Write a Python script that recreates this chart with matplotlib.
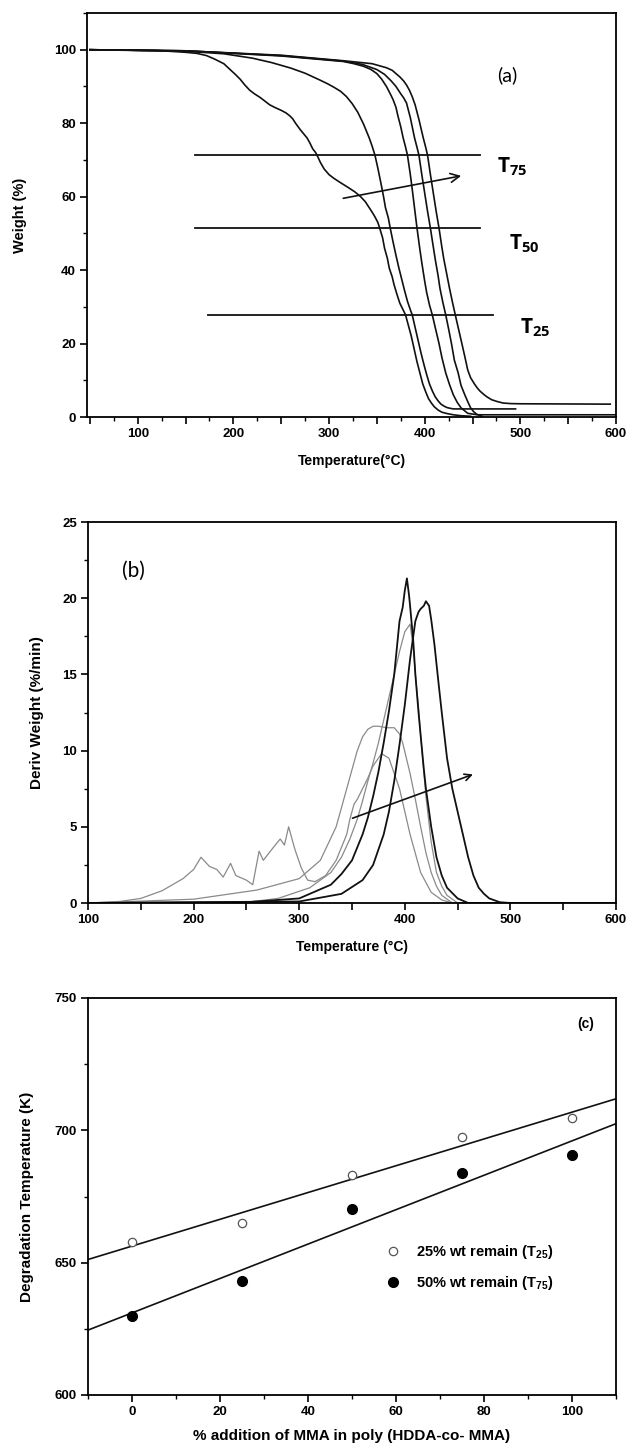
import matplotlib
matplotlib.use('Agg')
import matplotlib.pyplot as plt
import numpy as np
from matplotlib.ticker import MultipleLocator, FuncFormatter

plt.rcParams['font.family'] = ['Liberation Sans', 'DejaVu Sans']
plt.rcParams['font.weight'] = 'bold'
plt.rcParams['mathtext.default'] = 'regular'

# ---------------- (a) TGA curves: temperature (C) / weight (%) ----------------
tga1_t = [50, 120, 150, 162, 172, 180, 190, 197, 202, 207, 212, 217, 222, 228, 233, 238, 244, 250,
          255, 259, 262, 265, 270, 277, 280, 283, 286, 288, 291, 295, 300, 305, 312, 320, 327, 333,
          338, 342, 345, 348, 351, 353, 356, 358, 361, 363, 366, 368, 371, 374, 377, 380, 383, 386,
          389, 392, 395, 398, 401, 404, 407, 410, 414, 418, 424, 430, 438, 448]
tga1_w = [100, 99.8, 99.3, 99.0, 98.4, 97.5, 96.2, 94.5, 93.3, 92, 90.4, 89, 88, 87, 86, 85, 84.2,
          83.5, 82.8, 82, 81.2, 80, 78.2, 76, 74.6, 73, 72, 71, 69.3, 67.5, 66, 65, 63.8, 62.5, 61.3,
          60, 58.6, 57, 55.8, 54.5, 53, 51.4, 48.8, 46, 43.2, 40.5, 38.2, 36, 33.4, 31, 29.4, 27.8,
          24.9, 22, 18.5, 15, 12, 9, 6.9, 5, 3.8, 2.8, 1.9, 1.3, 0.9, 0.6, 0.35, 0.2]
tga2_t = [50, 150, 190, 220, 240, 260, 275, 290, 298, 305, 312, 318, 324, 330, 336, 342, 345, 348,
          351, 354, 357, 359, 362, 364, 367, 370, 373, 376, 379, 382, 385, 387, 390, 393, 396, 399,
          402, 405, 408, 411, 414, 417, 420, 423, 426, 430, 495]
tga2_w = [100, 99.6, 98.9, 97.7, 96.5, 95, 93.6, 91.8, 90.8, 89.8, 88.7, 87.3, 85.4, 83, 79.8, 76,
          73.8, 71.3, 67.8, 64, 60, 57, 54.2, 51.4, 47.6, 44, 40.6, 37.5, 34.4, 31.5, 29.2, 27.8,
          24.4, 21, 17.6, 14.5, 11.6, 9, 7.1, 5.5, 4.4, 3.5, 3.0, 2.6, 2.4, 2.2, 2.2]
tga3_t = [50, 150, 250, 315, 326, 336, 344, 350, 355, 360, 364, 367, 370, 372, 375, 377.5, 380, 382,
          385, 387, 390, 392, 395, 397, 400, 402, 405, 408, 411, 415, 418, 422, 426, 430, 434, 438,
          445, 455, 600]
tga3_w = [100, 99.7, 98.3, 96.8, 96.2, 95.5, 94.6, 93.5, 92, 90, 88, 86.4, 84.3, 82, 79, 76, 73.5,
          71.3, 66, 62, 55.6, 51.4, 45.6, 42, 37, 34, 30.5, 27.8, 24.4, 20, 16.2, 12, 8.8, 6, 4,
          2.5, 1.0, 0.6, 0.6]
tga4_t = [50, 150, 250, 315, 335, 350, 358, 365, 370, 375, 378, 381, 385, 389.4, 392, 394, 397, 400,
          403, 406, 408, 411, 414, 416, 419, 422, 425, 428, 431, 435, 438, 442, 445, 448, 451, 454,
          460]
tga4_w = [100, 99.7, 98.4, 96.9, 96, 94.6, 93.3, 91.5, 90, 88, 86.9, 85.5, 81.5, 76, 73.4, 71.3,
          66, 61, 56, 51.4, 48, 43, 38.5, 35, 31.2, 27.8, 24, 20, 15.5, 12, 8.6, 6, 4.2, 2.5, 1.5,
          0.8, 0.2]
tga5_t = [50, 150, 250, 315, 345, 360, 366, 370, 374, 378, 381, 384, 387, 390, 394, 398.5, 401, 403,
          406, 409, 412, 415, 418, 420, 423, 426, 429, 432, 435, 438, 442, 445, 448, 452, 455, 458,
          462, 465, 470, 476, 482, 490, 500, 594]
tga5_w = [100, 99.7, 98.5, 97, 96.2, 95.1, 94.4, 93.5, 92.6, 91.5, 90.4, 89, 87.2, 85, 81, 76, 73.5,
          71.3, 66, 61, 56, 51.4, 46.2, 43, 39, 35, 31.3, 27.8, 24.4, 21, 16.4, 12.8, 10.7, 9, 7.9,
          7, 6.1, 5.5, 4.7, 4.2, 3.8, 3.65, 3.6, 3.5]

level_w = [71.3, 51.4, 27.8]
level_start = [160, 160, 173]
level_end = [458, 458, 471]
level_names = ['75', '50', '25']
level_label_t = [476, 488, 500]
level_label_w = [66.5, 45.5, 22.8]

# ---------------- (b) DTG curves: temperature (C) / deriv weight (%/min) ----------------
dtg1_t = [100, 130, 150, 170, 190, 200, 207, 215, 222, 228, 235, 240, 250, 256, 262, 266, 275, 282,
          286, 290, 296, 302, 308, 315, 325, 335, 345, 348, 352, 355, 360, 365, 370, 378, 385, 395,
          405, 415, 425, 435, 445, 600]
dtg1_d = [0, 0.1, 0.3, 0.8, 1.6, 2.2, 3.0, 2.4, 2.2, 1.7, 2.6, 1.8, 1.5, 1.2, 3.4, 2.8, 3.6, 4.2,
          3.8, 5.0, 3.5, 2.3, 1.5, 1.4, 1.8, 2.8, 4.5, 5.5, 6.5, 6.8, 7.5, 8.2, 9.0, 9.8, 9.5, 7.5,
          4.5, 2.0, 0.7, 0.2, 0, 0]
dtg2_t = [100, 120, 200, 260, 300, 320, 335, 345, 355, 360, 365, 370, 375, 383, 390, 395, 398, 405,
          410, 415, 420, 425, 430, 435, 445, 600]
dtg2_d = [0, 0.05, 0.25, 0.85, 1.6, 2.8, 5, 7.5, 10, 10.9, 11.4, 11.6, 11.6, 11.5, 11.5, 11.1,
          10.5, 8.5, 6.8, 5, 3.3, 2, 1.1, 0.5, 0, 0]
dtg3_t = [100, 250, 280, 310, 330, 340, 348, 355, 360, 365, 370, 375, 380, 385, 390, 395, 400, 405,
          408, 410, 413, 415, 418, 420, 425, 430, 435, 440, 450, 600]
dtg3_d = [0, 0.05, 0.3, 1.0, 2.0, 3.0, 4.2, 5.5, 6.7, 8, 9.2, 10.5, 12, 13.5, 15, 16.5, 17.8, 18.3,
          16.8, 15, 12.8, 11, 8.6, 7, 4, 2, 1.1, 0.5, 0, 0]
dtg4_t = [100, 250, 300, 330, 340, 350, 360, 365, 370, 375, 380, 385, 390, 395, 398, 400, 402, 404,
          405, 408, 410, 413, 415, 418, 420, 425, 430, 435, 440, 450, 460, 600]
dtg4_d = [0, 0.05, 0.3, 1.2, 1.9, 2.8, 4.5, 5.6, 7, 8.6, 10.5, 12.6, 15, 18.5, 19.4, 20.5, 21.3,
          20.2, 19.5, 17.2, 15, 12.5, 11, 8.8, 7.5, 5, 3, 1.8, 1, 0.3, 0, 0]
dtg5_t = [100, 300, 340, 360, 370, 380, 385, 390, 395, 400, 405, 410, 413, 415, 418, 420, 423, 425,
          428, 432, 435, 440, 445, 450, 455, 460, 465, 470, 475, 480, 490, 500, 600]
dtg5_d = [0, 0.1, 0.6, 1.5, 2.5, 4.5, 6, 8, 10.4, 13, 16, 18.5, 19.1, 19.3, 19.5, 19.8, 19.5, 18.6,
          17, 14.4, 12.5, 9.5, 7.5, 6, 4.5, 3, 1.8, 1, 0.6, 0.3, 0.05, 0, 0]

# ---------------- (c) degradation temperature vs MMA ----------------
mma = [0, 25, 50, 75, 100]
t25_k = [657.8, 664.8, 683.0, 697.5, 704.7]
t75_k = [630.0, 642.9, 670.1, 683.8, 690.8]

fig = plt.figure(figsize=(6.32, 14.55), dpi=100)
ax_a = fig.add_axes([87/632, 1-417/1455, 529/632, 404/1455])
ax_b = fig.add_axes([88/632, 1-903/1455, 528/632, 381/1455])
ax_c = fig.add_axes([88/632, 1-1395/1455, 528/632, 397/1455])

def style(ax):
    for s in ax.spines.values():
        s.set_linewidth(1.3)
    ax.tick_params(which='major', direction='out', length=5, width=1.2, labelsize=9.5, pad=3)
    ax.tick_params(which='minor', direction='out', length=3, width=1.0)
    for lab in ax.get_xticklabels() + ax.get_yticklabels():
        lab.set_fontweight('bold')

every100 = FuncFormatter(lambda v, p: '%d' % v if abs(v % 100) < 1e-6 else '')

# (a)
for tt, ww in [(tga1_t, tga1_w), (tga2_t, tga2_w), (tga3_t, tga3_w), (tga4_t, tga4_w), (tga5_t, tga5_w)]:
    ax_a.plot(tt, ww, color='#111111', lw=1.2)
for w, x0, x1, nm, lx, ly in zip(level_w, level_start, level_end, level_names, level_label_t, level_label_w):
    ax_a.plot([x0, x1], [w, w], color='#111111', lw=1.3)
    ax_a.text(lx, ly, 'T$_{%s}$' % nm, family=['Open Sans', 'DejaVu Sans'], fontweight='bold',
              fontsize=15, ha='left', va='baseline')
ax_a.annotate('', xy=(441, 65.8), xytext=(312, 59.4),
              arrowprops=dict(arrowstyle='->', color='#111111', lw=1.2, mutation_scale=16))
ax_a.text(486, 93, '(a)', family=['Lato', 'DejaVu Sans'], fontweight='normal', fontsize=14,
          ha='center', va='center')
ax_a.set_xlim(47, 600)
ax_a.set_ylim(0, 110)
ax_a.xaxis.set_major_locator(MultipleLocator(50))
ax_a.xaxis.set_major_formatter(every100)
ax_a.xaxis.set_minor_locator(MultipleLocator(25))
ax_a.yaxis.set_major_locator(MultipleLocator(20))
ax_a.yaxis.set_minor_locator(MultipleLocator(10))
ax_a.set_yticks([0, 20, 40, 60, 80, 100])
ax_a.set_xlabel('Temperature(°C)', fontsize=10, fontweight='bold', labelpad=10)
ax_a.set_ylabel('Weight (%)', fontsize=10.5, fontweight='bold', labelpad=19)
style(ax_a)

# (b)
grey = '#8a8a8a'
for tt, dd, c, lw in [(dtg1_t, dtg1_d, grey, 0.9), (dtg2_t, dtg2_d, grey, 0.9), (dtg3_t, dtg3_d, grey, 0.9),
                      (dtg4_t, dtg4_d, '#111111', 1.3), (dtg5_t, dtg5_d, '#111111', 1.3)]:
    ax_b.plot(tt, dd, color=c, lw=lw)
ax_b.annotate('', xy=(467, 8.5), xytext=(348, 5.5),
              arrowprops=dict(arrowstyle='->', color='#111111', lw=1.2, mutation_scale=12))
ax_b.text(143, 21.8, '(b)', family=['Lato', 'DejaVu Sans'], fontweight='normal', fontsize=15,
          ha='center', va='center')
ax_b.set_xlim(100, 600)
ax_b.set_ylim(0, 25)
ax_b.xaxis.set_major_locator(MultipleLocator(50))
ax_b.xaxis.set_major_formatter(every100)
ax_b.yaxis.set_major_locator(MultipleLocator(5))
ax_b.yaxis.set_minor_locator(MultipleLocator(2.5))
ax_b.set_xlabel('Temperature (°C)', fontsize=10, fontweight='bold', labelpad=10)
ax_b.set_ylabel('Deriv Weight (%/min)', fontsize=11, fontweight='bold', labelpad=13)
style(ax_b)

# (c)
xfit = np.array([-10, 110])
p25 = np.polyfit(mma, t25_k, 1)
p75 = np.polyfit(mma, t75_k, 1)
ax_c.plot(xfit, np.polyval(p25, xfit), color='#111111', lw=1.2)
ax_c.plot(xfit, np.polyval(p75, xfit), color='#111111', lw=1.2)
ax_c.plot(mma, t25_k, 'o', ms=6, mfc='white', mec='#555555', mew=0.9,
          label='25% wt remain (T$_{25}$)')
ax_c.plot(mma, t75_k, 'o', ms=7, mfc='black', mec='black',
          label='50% wt remain (T$_{75}$)')
ax_c.legend(loc='upper left', bbox_to_anchor=(0.525, 0.415), frameon=False,
            prop={'weight': 'bold', 'size': 10.5}, handletextpad=0.6, labelspacing=0.9)
ax_c.text(103, 740, '(c)', fontsize=10, fontweight='bold', ha='center', va='center')
ax_c.set_xlim(-10, 110)
ax_c.set_ylim(600, 750)
ax_c.xaxis.set_major_locator(MultipleLocator(20))
ax_c.xaxis.set_minor_locator(MultipleLocator(10))
ax_c.yaxis.set_major_locator(MultipleLocator(50))
ax_c.yaxis.set_minor_locator(MultipleLocator(25))
ax_c.set_xlabel('% addition of MMA in poly (HDDA-co- MMA)', fontsize=11, fontweight='bold', labelpad=8)
ax_c.set_ylabel('Degradation Temperature (K)', fontsize=11, fontweight='bold', labelpad=15)
style(ax_c)

fig.savefig('out.png', dpi=100)
